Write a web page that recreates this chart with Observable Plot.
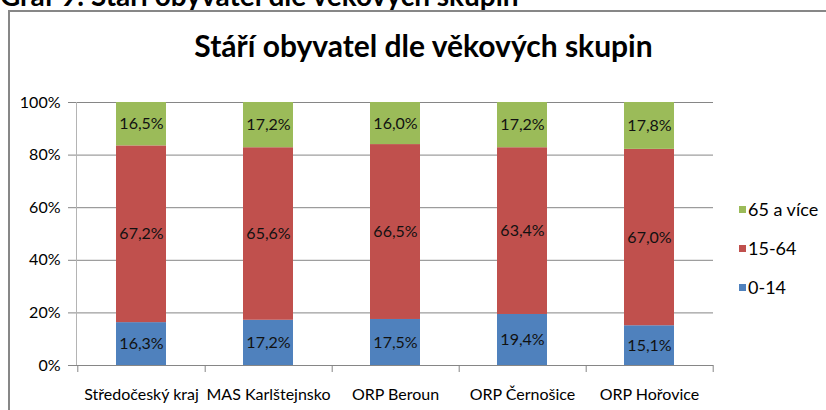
<!DOCTYPE html>
<html>
<head>
<meta charset="utf-8">
<script src="https://cdn.jsdelivr.net/npm/d3@7"></script>
<script src="https://cdn.jsdelivr.net/npm/@observablehq/plot@0.6"></script>
<style>
  html, body { margin: 0; padding: 0; background: #fff; }
  body { width: 826px; height: 410px; overflow: hidden; position: relative; font-family: Lato, "Open Sans", sans-serif; }
  #header { position: absolute; left: 0; top: -19px; font-size: 28px; font-weight: bold; white-space: nowrap; color: #000; line-height: 28px; }
  #frame { position: absolute; left: 8px; top: 10px; width: 900px; height: 500px; border: 2px solid #878787; box-sizing: border-box; }
  #title { position: absolute; left: 0; width: 847px; top: 29px; text-align: center; font-size: 30px; font-weight: bold; line-height: 32px; color: #000; white-space: nowrap; }
  #chart { position: absolute; left: 0; top: 80px; }
  #legend { position: absolute; left: 739px; top: 198px; font-size: 18px; color: #000; }
  .li { height: 39px; display: flex; align-items: flex-start; white-space: nowrap; }
  .sw { width: 7px; height: 7px; margin-top: 8px; margin-right: 2px; }
</style>
</head>
<body>
<div id="header">Graf 9: Stáří obyvatel dle věkových skupin</div>
<div id="frame"></div>
<div id="title">Stáří obyvatel dle věkových skupin</div>
<div id="chart"></div>
<div id="legend"></div>
<script>
const categories = ["Středočeský kraj", "MAS Karlštejnsko", "ORP Beroun", "ORP Černošice", "ORP Hořovice"];
const groups = ["0-14", "15-64", "65 a více"];
const values0_14 = [16.3, 17.2, 17.5, 19.4, 15.1];
const values15_64 = [67.2, 65.6, 66.5, 63.4, 67.0];
const values65 = [16.5, 17.2, 16.0, 17.2, 17.8];
const colors = ["#4F81BD", "#C0504D", "#9BBB59"];
const yTicks = [0, 0.2, 0.4, 0.6, 0.8, 1];

const series = [values0_14, values15_64, values65];
const data = [];
categories.forEach((c, i) => {
  groups.forEach((g, j) => data.push({category: c, group: g, value: series[j][i]}));
});

const fmt = v => v.toFixed(1).replace(".", ",") + "%";
const W = 826, mL = 76, mR = 113;
const step = (W - mL - mR) / categories.length;

const stackOpts = {x: "category", y: "value", z: "group", order: groups, offset: "normalize"};

const chart = Plot.plot({
  width: W,
  height: 330,
  marginLeft: mL,
  marginRight: mR,
  marginTop: 22,
  marginBottom: 45,
  style: {fontFamily: "Lato, sans-serif", fontSize: "16px", background: "transparent", overflow: "visible", color: "#000"},
  x: {domain: categories, paddingInner: 0.61, paddingOuter: 0.305, label: null},
  y: {domain: [0, 1], label: null},
  color: {domain: groups, range: colors},
  marks: [
    Plot.gridY({ticks: yTicks, stroke: "#868686", strokeOpacity: 1}),
    Plot.barY(data, Plot.stackY({...stackOpts, fill: "group"})),
    Plot.text(data, Plot.stackY({...stackOpts, text: d => fmt(d.value), fill: "#111", fontSize: 16})),
    Plot.frame({anchor: "left", stroke: "#b4b4b4"}),
    Plot.ruleY([0], {stroke: "#868686"}),
    Plot.axisY({ticks: yTicks, tickFormat: d3.format(".0%"), tickSize: 8, tickPadding: 8, stroke: "#868686", fill: "#000", fontSize: 16, label: null}),
    Plot.axisX({tickSize: 0, tickPadding: 23, fill: "#000", fontSize: 16, label: null}),
    Plot.axisX({tickSize: 7, text: null, dx: step / 2, stroke: "#868686", label: null}),
    Plot.axisX({ticks: [categories[0]], tickSize: 7, text: null, dx: -step / 2, stroke: "#868686", label: null})
  ]
});
document.getElementById("chart").appendChild(chart);

const legend = document.getElementById("legend");
[...groups].reverse().forEach(g => {
  const row = document.createElement("div");
  row.className = "li";
  const sw = document.createElement("div");
  sw.className = "sw";
  sw.style.background = colors[groups.indexOf(g)];
  const t = document.createElement("span");
  t.textContent = g;
  row.appendChild(sw);
  row.appendChild(t);
  legend.appendChild(row);
});
</script>
</body>
</html>
